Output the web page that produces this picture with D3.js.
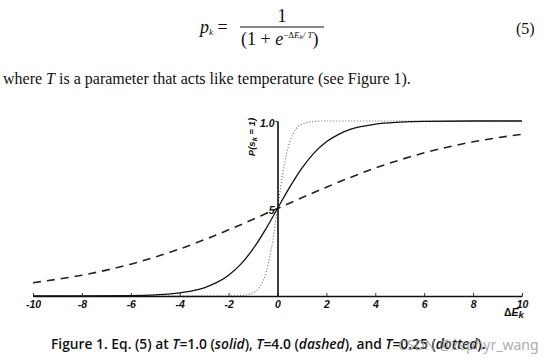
<!DOCTYPE html>
<html>
<head>
<meta charset="utf-8">
<script src="https://cdn.jsdelivr.net/npm/d3@7"></script>
<style>
  body { margin: 0; background: #fff; }
  svg { display: block; }
  .tick text { font-family: "Liberation Sans", Arial, sans-serif; font-weight: bold; font-style: italic; font-size: 10.5px; fill: #111; }
</style>
</head>
<body>
<svg id="graph" width="554" height="362"></svg>
<script>
/*******************************************************************************************/
// Values

var xTicks = [-10, -8, -6, -4, -2, 0, 2, 4, 6, 8, 10];
var yTicks = [0.5, 1.0];
var yTickLabels = ['.5', '1.0'];

// T = 1.0 (solid)
var solidX = [-10, -8, -6, -5, -4, -3, -2.5, -2, -1.5, -1, -0.5, 0, 0.5, 1, 1.5, 2, 2.5, 3, 4, 5, 6, 8, 10];
var solidY = [0.0, 0.0003, 0.0025, 0.0067, 0.018, 0.047, 0.076, 0.119, 0.182, 0.269, 0.378, 0.5, 0.622, 0.731, 0.818, 0.881, 0.924, 0.953, 0.982, 0.993, 0.998, 1.0, 1.0];

// T = 4.0 (dashed)
var dashedX = [-10, -8, -6, -4, -2, 0, 2, 4, 6, 8, 10];
var dashedY = [0.076, 0.119, 0.182, 0.269, 0.378, 0.5, 0.622, 0.731, 0.818, 0.881, 0.924];

// T = 0.25 (dotted)
var dottedX = [-10, -2, -1.5, -1, -0.75, -0.5, -0.25, 0, 0.25, 0.5, 0.75, 1, 1.5, 2, 10];
var dottedY = [0.0, 0.0003, 0.0025, 0.018, 0.047, 0.119, 0.269, 0.5, 0.731, 0.881, 0.953, 0.982, 0.9975, 1.0, 1.0];

/*******************************************************************************************/
// Page text

var svg = d3.select('#graph');
var serif = '"Liberation Serif", "Times New Roman", serif';
var sans = '"Liberation Sans", Arial, sans-serif';

// equation (5)
var eq = svg.append('g').attr('font-family', serif).attr('fill', '#111');
var lhs = eq.append('text').attr('x', 200).attr('y', 33).attr('font-size', 18);
lhs.append('tspan').attr('font-style', 'italic').text('p');
lhs.append('tspan').attr('font-style', 'italic').attr('font-size', 9).attr('dy', 2).text('k');
lhs.append('tspan').attr('dy', -2).text(' =');
eq.append('text').attr('x', 282).attr('y', 22).attr('text-anchor', 'middle').attr('font-size', 18).text('1');
eq.append('line').attr('x1', 240).attr('x2', 324).attr('y1', 27).attr('y2', 27).attr('stroke', '#111').attr('stroke-width', 1);
var den = eq.append('text').attr('x', 241).attr('y', 45).attr('font-size', 18);
den.append('tspan').text('(1 + ');
den.append('tspan').attr('font-style', 'italic').text('e');
den.append('tspan').attr('font-size', 9).attr('dy', -7).text('−Δ');
den.append('tspan').attr('font-size', 9).attr('font-style', 'italic').text('E');
den.append('tspan').attr('font-size', 7).attr('font-style', 'italic').attr('dy', 1).text('k');
den.append('tspan').attr('font-size', 9).attr('font-style', 'italic').attr('dy', -1).text('/ T');
den.append('tspan').attr('dy', 7).text(')');
eq.append('text').attr('x', 516).attr('y', 34).attr('font-size', 16).text('(5)');

// sentence
var line = svg.append('text').attr('x', 3).attr('y', 84).attr('font-family', serif).attr('font-size', 16).attr('fill', '#111');
line.append('tspan').text('where ');
line.append('tspan').attr('font-style', 'italic').text('T');
line.append('tspan').text(' is a parameter that acts like temperature (see Figure 1).');

/*******************************************************************************************/
// Graph

var xScale = d3.scaleLinear().domain([-10, 10]).range([33, 522]);
var yScale = d3.scaleLinear().domain([0, 1]).range([296, 121]);

var lineGen = d3.line().x(function(d){ return xScale(d.x) }).y(function(d){ return yScale(d.y) }).curve(d3.curveMonotoneX);
function pts(xs, ys){ return xs.map(function(x, i){ return { x: x, y: ys[i] } }) }

svg.append('path').datum(pts(dottedX, dottedY)).attr('d', lineGen)
  .attr('fill', 'none').attr('stroke', '#666').attr('stroke-width', 1.1).attr('stroke-dasharray', '1,2');

svg.append('path').datum(pts(dashedX, dashedY)).attr('d', lineGen)
  .attr('fill', 'none').attr('stroke', '#222').attr('stroke-width', 1.6).attr('stroke-dasharray', '8,6');

svg.append('path').datum(pts(solidX, solidY)).attr('d', lineGen)
  .attr('fill', 'none').attr('stroke', '#111').attr('stroke-width', 1.3);

// x axis
var xAxis = svg.append('g').attr('transform', 'translate(0,' + yScale(0) + ')')
  .call(d3.axisBottom(xScale).tickValues(xTicks).tickSize(-3).tickSizeOuter(0).tickPadding(5).tickFormat(function(d){ return String(d) }));
xAxis.select('.domain').attr('stroke', '#111').attr('stroke-width', 1.6);
xAxis.selectAll('.tick line').attr('stroke', '#333');

// y axis
var yAxis = svg.append('g').attr('transform', 'translate(' + xScale(0) + ',0)')
  .call(d3.axisLeft(yScale).tickValues(yTicks).tickSize(2).tickSizeOuter(0).tickPadding(1).tickFormat(function(d, i){ return yTickLabels[i] }));
yAxis.select('.domain').attr('stroke', '#111').attr('stroke-width', 1.6);
yAxis.selectAll('.tick line').attr('stroke', '#111');
yAxis.selectAll('.tick text').attr('dy', '0.5em');

// axis labels
var yl = svg.append('text').attr('transform', 'translate(255,137) rotate(-90)').attr('text-anchor', 'middle')
  .attr('font-family', sans).attr('font-weight', 'bold').attr('font-style', 'italic').attr('font-size', 9.5).attr('fill', '#111');
yl.append('tspan').text('P(s');
yl.append('tspan').attr('font-size', 7.5).attr('dy', 2).text('k');
yl.append('tspan').attr('dy', -2).text(' = 1)');

var xl = svg.append('text').attr('x', 504).attr('y', 316)
  .attr('font-family', sans).attr('font-weight', 'bold').attr('font-size', 10.5).attr('fill', '#111');
xl.append('tspan').text('Δ');
xl.append('tspan').attr('font-style', 'italic').text('E');
xl.append('tspan').attr('font-style', 'italic').attr('font-size', 9.5).attr('dy', 2).text('k');

/*******************************************************************************************/
// Caption

var cap = svg.append('text').attr('x', 51).attr('y', 349).attr('font-family', '"Open Sans", sans-serif')
  .attr('font-weight', 600).attr('font-size', 13.8).attr('fill', '#111');
cap.append('tspan').text('Figure 1. Eq. (5) at ');
cap.append('tspan').attr('font-style', 'italic').text('T');
cap.append('tspan').text('=1.0 (');
cap.append('tspan').attr('font-style', 'italic').text('solid');
cap.append('tspan').text('), ');
cap.append('tspan').attr('font-style', 'italic').text('T');
cap.append('tspan').text('=4.0 (');
cap.append('tspan').attr('font-style', 'italic').text('dashed');
cap.append('tspan').text('), and ');
cap.append('tspan').attr('font-style', 'italic').text('T');
cap.append('tspan').text('=0.25 (');
cap.append('tspan').attr('font-style', 'italic').text('dotted');
cap.append('tspan').text(').');

svg.append('text').attr('x', 398).attr('y', 350).attr('font-family', '"Noto Sans", sans-serif')
  .attr('font-size', 14).attr('fill', '#999').attr('opacity', 0.8).text('CSDN @zephyr_wang');
</script>
</body>
</html>
